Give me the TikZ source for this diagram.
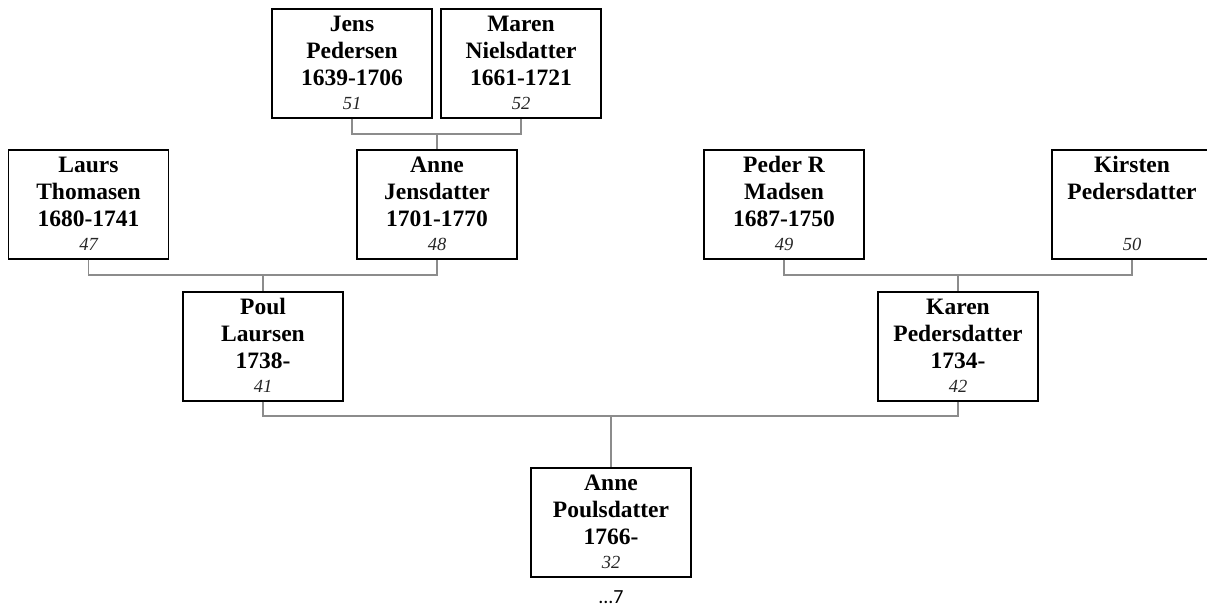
\documentclass[tikz,border=0pt]{standalone}
\usepackage{fontspec}
\setmainfont{Liberation Serif}
\newfontfamily\calibfont{Carlito}
\usetikzlibrary{calc}
\tikzset{
  pbox/.style={draw=black, line width=1.2pt, minimum width=160pt, minimum height=109pt, inner sep=0pt},
  nm/.style={anchor=base, inner sep=0pt, font=\fontsize{23.5}{28}\selectfont\bfseries},
  num/.style={anchor=base, inner sep=0pt, font=\fontsize{18.5}{22}\selectfont\itshape, text=black!85},
  conn/.style={draw=black!45, line width=1.3pt},
}
\newcommand\famperson[7]{%
  \node[pbox] (#1) at (#2,#3+54.5) {};
  \node[nm] (#1-a) at ($(#1.north)+(0,23)$) {#4};
  \node[nm] (#1-b) at ($(#1.north)+(0,50)$) {#5};
  \node[nm] (#1-c) at ($(#1.north)+(0,77)$) {#6};
  \node[num] (#1-d) at ($(#1.north)+(0,101)$) {#7};
}
\begin{document}
\begin{tikzpicture}[x=1pt,y=-1pt]
\useasboundingbox (0,0) rectangle (1207,607);
\clip (0,0) rectangle (1207,607);
\famperson{jens}{352}{9}{Jens}{Pedersen}{1639-1706}{51}
\famperson{maren}{521}{9}{Maren}{Nielsdatter}{1661-1721}{52}
\famperson{laurs}{88.5}{150}{Laurs}{Thomasen}{1680-1741}{47}
\famperson{annej}{437}{150}{Anne}{Jensdatter}{1701-1770}{48}
\famperson{peder}{784}{150}{Peder R}{Madsen}{1687-1750}{49}
\famperson{kirsten}{1132}{150}{Kirsten}{Pedersdatter}{}{50}
\famperson{poul}{263}{292}{Poul}{Laursen}{1738-}{41}
\famperson{karen}{958}{292}{Karen}{Pedersdatter}{1734-}{42}
\famperson{annep}{611}{468}{Anne}{Poulsdatter}{1766-}{32}
\node[anchor=base, inner sep=0pt, font=\calibfont\fontsize{20}{24}\selectfont] (more) at (611,603) {...7};
\coordinate (j1) at (437,134);
\coordinate (j2) at (263,275);
\coordinate (j3) at (958,275);
\coordinate (j4) at (611,416);
\draw[conn] (jens.south) |- (j1) -| (maren.south);
\draw[conn] (j1) -- (annej.north);
\draw[conn] (laurs.south) |- (j2) -| (annej.south);
\draw[conn] (j2) -- (poul.north);
\draw[conn] (peder.south) |- (j3) -| (kirsten.south);
\draw[conn] (j3) -- (karen.north);
\draw[conn] (poul.south) |- (j4) -| (karen.south);
\draw[conn] (j4) -- (annep.north);
\end{tikzpicture}
\end{document}
